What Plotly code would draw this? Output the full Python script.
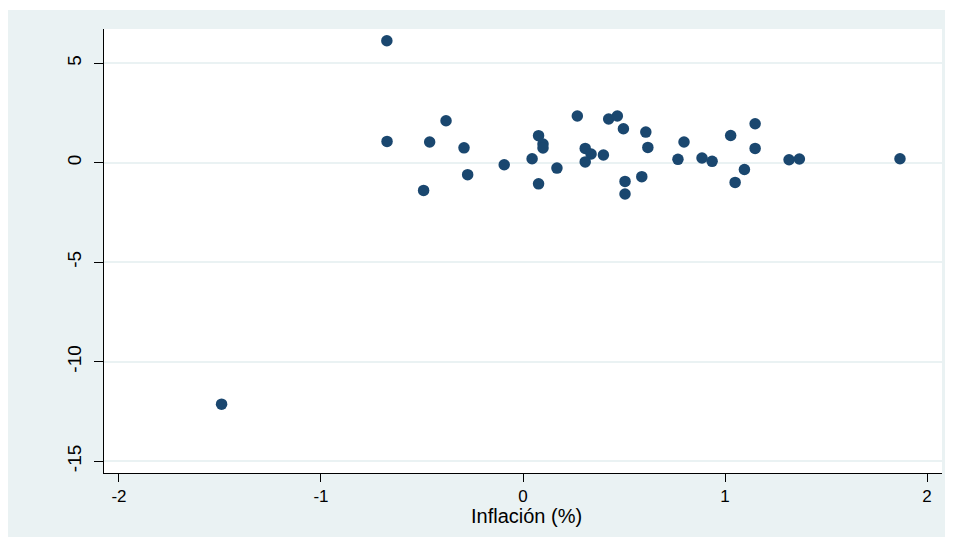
import plotly.graph_objects as go

inflacion = [-0.674, -0.673, -0.462, -0.381, -0.292, -0.492, -0.274, -0.093, 0.045, 0.077,
             0.099, 0.099, 0.077, 0.168, 0.269, 0.308, 0.337, 0.308, 0.398, 0.424,
             0.467, 0.497, 0.505, 0.505, 0.588, 0.608, 0.618, 0.767, 0.797, 0.886,
             0.936, 1.028, 1.050, 1.096, 1.149, 1.149, 1.317, 1.368, 1.866, -1.492]
valores = [6.13, 1.07, 1.04, 2.11, 0.75, -1.39, -0.60, -0.10, 0.20, 1.36,
           0.94, 0.74, -1.06, -0.27, 2.35, 0.72, 0.44, 0.04, 0.39, 2.20,
           2.35, 1.71, -0.94, -1.57, -0.70, 1.54, 0.77, 0.17, 1.04, 0.24,
           0.07, 1.37, -0.99, -0.34, 1.96, 0.72, 0.15, 0.19, 0.20, -12.13]

x_ticks = [-2, -1, 0, 1, 2]
x_labels = ["-2", "-1", "0", "1", "2"]
y_ticks = [-15, -10, -5, 0, 5]
y_labels = ["-15", "-10", "-5", "0", "5"]
x_title = "Inflación (%)"

BG = "#EAF2F3"
NAVY = "#1A476F"
W, H = 945, 529
ML, MR, MT, MB = 96, 11, 21, 64
pw, ph = W - ML - MR, H - MT - MB

fig = go.Figure(go.Scatter(
    x=inflacion, y=valores, mode="markers",
    marker=dict(color=NAVY, size=11.5, line=dict(width=0)),
    showlegend=False, hoverinfo="x+y"))

# thin white strip at the very top
fig.add_shape(type="rect", xref="paper", yref="paper",
              x0=-ML / pw - 0.01, x1=1 + MR / pw + 0.01, y0=1 + (MT - 2) / ph, y1=1 + MT / ph + 0.05,
              fillcolor="white", line=dict(width=0), layer="above")

font = "Liberation Sans, Arial, sans-serif"
fig.add_annotation(text=x_title, xref="paper", yref="paper", x=0.504, y=-0.097,
                   xanchor="center", yanchor="middle", showarrow=False,
                   font=dict(size=20, family=font, color="black"))

fig.update_layout(
    width=W, height=H,
    margin=dict(l=ML, r=MR, t=MT, b=MB, autoexpand=False),
    paper_bgcolor=BG, plot_bgcolor="white",
    font=dict(family=font, color="black"),
    xaxis=dict(range=[-2.074, 2.074], tickvals=x_ticks, ticktext=x_labels, ticks="outside", ticklen=8,
               tickcolor="black", tickwidth=1, showline=True, linecolor="black", linewidth=1,
               showgrid=False, zeroline=False, tickfont=dict(size=17, family=font)),
    yaxis=dict(range=[-15.59, 6.72], tickvals=y_ticks, ticktext=y_labels, ticks="outside", ticklen=9,
               tickcolor="black", tickwidth=1, showline=True, linecolor="black", linewidth=1,
               showgrid=True, gridcolor=BG, gridwidth=1.5, zeroline=False,
               tickangle=-90, ticklabelstandoff=5, tickfont=dict(size=19, family=font)),
)

fig.write_html("out.html")
